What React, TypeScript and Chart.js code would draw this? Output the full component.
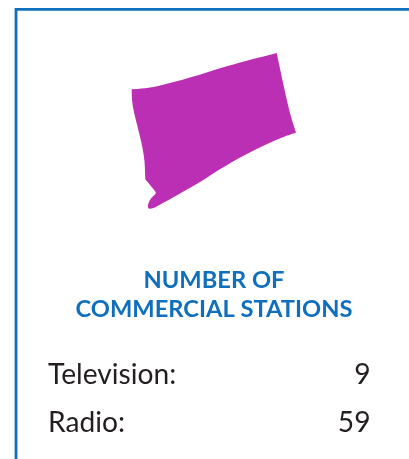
import React, { useEffect, useRef } from "react";
import { Chart, registerables } from "chart.js";

Chart.register(...registerables);

const outlineX = [131.7, 143.3, 153.3, 165, 176.7, 188.3, 200, 213.3, 226.7, 240, 253.3, 265, 276.7, 281.7, 286.7, 291.7, 296, 288.3, 280, 270, 260, 248.3, 236.7, 225, 213.3, 203.3, 193.3, 183.3, 173.3, 166.7, 160, 155, 151.7, 148.3, 147.7, 148.7, 150.7, 153.3, 156.3, 154.7, 150, 145.3, 145, 144.7, 142.7, 140, 136.7, 134, 132.3, 131.7];
const outlineY = [89.3, 88.7, 87, 84.3, 81.3, 78, 74.7, 70.3, 66.3, 62.7, 59, 56, 53, 76.7, 100, 120, 132.7, 135, 138.3, 142.7, 147.3, 153.3, 159.3, 166.3, 173.3, 180, 186, 191.7, 197.3, 201, 204.7, 207.3, 208.7, 208.7, 205.7, 202.3, 198.7, 196, 193.3, 190.7, 185, 179.3, 171.7, 161.7, 148.3, 136.7, 123.3, 112.7, 103.3, 95];
const outlineCorners = [0, 12, 16, 41];
const frameX = [16, 16, 409];
const frameY = [459, 9.3, 9.3];
const titleLines = ["NUMBER OF", "COMMERCIAL STATIONS"];
const categories = ["Television:", "Radio:"];
const stations = ["9", "59"];

const BLUE = "#0f6fbd";
const PURPLE = "#bb2fb5";
const INK = "#231f20";

const shapeAndText = {
  id: "shapeAndText",
  beforeDatasetsDraw(chart: any) {
    const pts = chart.getDatasetMeta(0).data;
    const ctx = chart.ctx;
    ctx.save();
    ctx.beginPath();
    ctx.moveTo(pts[0].x, pts[0].y);
    for (let i = 1; i < pts.length; i++) {
      const p = pts[i];
      const n = pts[(i + 1) % pts.length];
      if (outlineCorners.includes(i)) ctx.lineTo(p.x, p.y);
      else if (outlineCorners.includes(i + 1) || i === pts.length - 1) ctx.quadraticCurveTo(p.x, p.y, n.x, n.y);
      else ctx.quadraticCurveTo(p.x, p.y, (p.x + n.x) / 2, (p.y + n.y) / 2);
    }
    ctx.closePath();
    ctx.fillStyle = PURPLE;
    ctx.fill();
    ctx.restore();
  },
  afterDraw(chart: any) {
    const ctx = chart.ctx;
    ctx.save();
    ctx.textBaseline = "alphabetic";
    ctx.fillStyle = BLUE;
    ctx.font = "700 23.7px Lato";
    ctx.textAlign = "center";
    titleLines.forEach((t, i) => ctx.fillText(t, 214, 288 + i * 29));
    ctx.fillStyle = INK;
    ctx.font = "400 28.2px Lato";
    categories.forEach((c, i) => {
      ctx.textAlign = "left";
      ctx.fillText(c, 48, 384 + i * 47.5);
      ctx.textAlign = "right";
      ctx.fillText(stations[i], 370.5, 384 + i * 47.5);
    });
    ctx.restore();
  },
};

export default function App() {
  const ref = useRef<HTMLCanvasElement>(null);
  useEffect(() => {
    const chart = new Chart(ref.current!, {
      type: "scatter",
      data: {
        datasets: [
          {
            label: "Shape",
            data: outlineX.map((x, i) => ({ x, y: outlineY[i] })),
            pointRadius: 0,
            showLine: false,
          },
          {
            label: "Frame",
            data: frameX.map((x, i) => ({ x, y: frameY[i] })),
            showLine: true,
            borderColor: BLUE,
            borderWidth: 2.8,
            pointRadius: 0,
            borderJoinStyle: "miter",
            clip: false,
          },
        ],
      },
      options: {
        animation: false,
        responsive: false,
        layout: { padding: 0 },
        plugins: { legend: { display: false }, tooltip: { enabled: false } },
        scales: {
          x: { type: "linear", display: false, min: 0, max: 409 },
          y: { type: "linear", display: false, min: 0, max: 459, reverse: true },
        },
      },
      plugins: [shapeAndText],
    } as any);
    return () => chart.destroy();
  }, []);
  return (
    <div style={{ position: "fixed", left: 0, top: 0, width: 409, height: 459, background: "#fff" }}>
      <canvas ref={ref} width={409} height={459} style={{ display: "block" }} />
    </div>
  );
}
